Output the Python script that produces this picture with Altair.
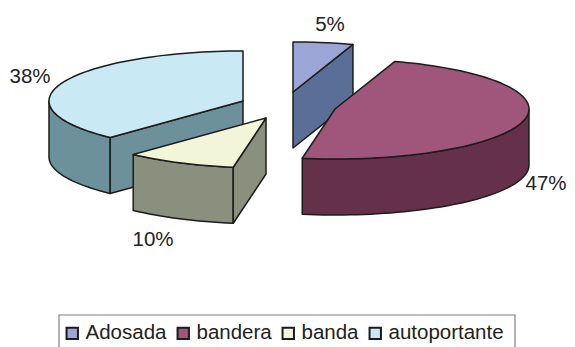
import math
import altair as alt

names = ["Adosada", "bandera", "banda", "autoportante"]
shares = [5.0, 47.7, 9.3, 38.0]
labels = ["5%", "47%", "10%", "38%"]
top_colors = ["#9BA6D6", "#A0557A", "#F3F5D9", "#C9E9F5"]
side_colors = ["#5A6E96", "#64304A", "#8A8F7E", "#6D919B"]
apex_x = [293, 335, 266, 243]
apex_y = [92, 109, 118, 101]
label_x = [330, 546, 153, 30]
label_y = [25, 184, 240, 77]

RX, RY, DEPTH = 194, 50, 56
EDGE = "#1c1c1c"
X_SCALE = alt.Scale(domain=[8, 567], range=[0, 559])
Y_SCALE = alt.Scale(domain=[8, 347], range=[0, 339])


def pt(cx, cy, deg, drop=0):
    a = math.radians(deg)
    return [cx + RX * math.sin(a), cy - RY * math.cos(a) + drop]


def arc(cx, cy, a0, a1, drop=0):
    n = max(2, int(abs(a1 - a0) / 2))
    return [pt(cx, cy, a0 + (a1 - a0) * i / n, drop) for i in range(n + 1)]


def feature(name, ring):
    ring = ring + [ring[0]]
    return {"type": "Feature", "properties": {"name": name},
            "geometry": {"type": "Polygon", "coordinates": [ring]}}


def side_faces(name, cx, cy, a0, a1):
    faces = []
    s0, s1 = max(a0, 90), min(a1, 270)
    if s1 > s0:
        faces.append(feature(name, arc(cx, cy, s0, s1) + arc(cx, cy, s1, s0, DEPTH)))
    for a, visible in ((a0, math.sin(math.radians(a0)) < -1e-6),
                       (a1, math.sin(math.radians(a1)) > 1e-6)):
        if visible:
            p = pt(cx, cy, a)
            faces.append(feature(name, [p, [cx, cy], [cx, cy + DEPTH], [p[0], p[1] + DEPTH]]))
    return faces


projection = dict(type="identity", scale=1, translate=[-8, -8])
color = alt.Color(
    "properties.name:N",
    scale=alt.Scale(domain=names, range=top_colors),
    legend=alt.Legend(
        orient="none", legendX=51, legendY=312, direction="horizontal", columns=4,
        title=None, padding=3,
        labelFont="Liberation Sans", labelFontSize=20.5, labelColor="#222222",
        symbolType="square", symbolSize=130, symbolStrokeColor=EDGE, symbolStrokeWidth=2,
        labelOffset=3, columnPadding=6,
    ),
)

layers = []
start = 0.0
angles = []
for i, n in enumerate(names):
    a0, a1 = start * 3.6, (start + shares[i]) * 3.6
    start += shares[i]
    angles.append((a0, a1))

for i in [0, 1, 3, 2]:
    a0, a1 = angles[i]
    cx, cy = apex_x[i], apex_y[i]
    layers.append(
        alt.Chart(alt.Data(values=side_faces(names[i], cx, cy, a0, a1)))
        .mark_geoshape(fill=side_colors[i], stroke=EDGE, strokeWidth=1.5, strokeJoin="round")
        .project(**projection)
    )
    top = [feature(names[i], [[cx, cy]] + arc(cx, cy, a0, a1))]
    layers.append(
        alt.Chart(alt.Data(values=top))
        .mark_geoshape(stroke=EDGE, strokeWidth=1.5, strokeJoin="round")
        .encode(color=color)
        .project(**projection)
    )

label_rows = [{"t": t, "x": x, "y": y} for t, x, y in zip(labels, label_x, label_y)]
layers.append(
    alt.Chart(alt.Data(values=label_rows))
    .mark_text(font="Liberation Sans", fontSize=20.5, color="#222222", align="center", baseline="middle")
    .encode(
        x=alt.X("x:Q", scale=X_SCALE, axis=None),
        y=alt.Y("y:Q", scale=Y_SCALE, axis=None),
        text="t:N",
    )
)

frame_rows = [{"x0": 59, "x1": 515, "y0": 315, "y1": 360}]
layers.append(
    alt.Chart(alt.Data(values=frame_rows))
    .mark_rect(fillOpacity=0, stroke="#808080", strokeWidth=1.2, clip=True)
    .encode(
        x=alt.X("x0:Q", scale=X_SCALE, axis=None),
        x2="x1:Q",
        y=alt.Y("y0:Q", scale=Y_SCALE, axis=None),
        y2="y1:Q",
    )
)

chart = (
    alt.layer(*layers)
    .properties(width=559, height=339, padding=0, autosize=alt.AutoSizeParams(type="none"))
    .configure_view(stroke=None)
)
chart.save("out.html", embed_options={"renderer": "svg", "actions": False})
